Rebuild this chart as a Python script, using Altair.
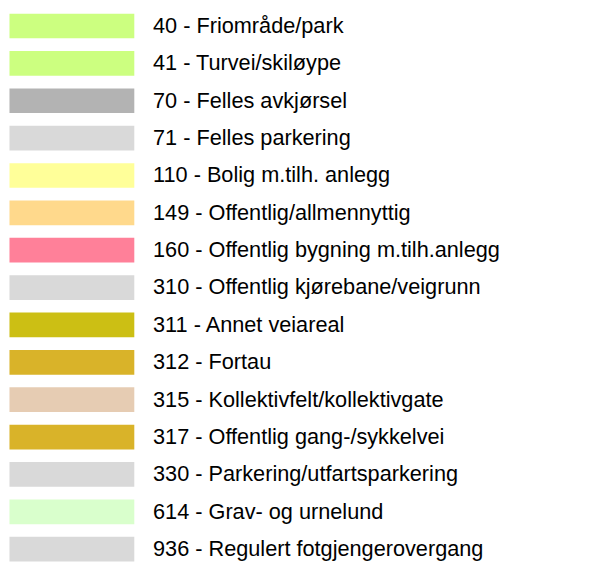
import altair as alt
import pandas as pd

codes = ["40", "41", "70", "71", "110", "149", "160", "310", "311", "312",
         "315", "317", "330", "614", "936"]
names = ["Friområde/park", "Turvei/skiløype", "Felles avkjørsel", "Felles parkering",
         "Bolig m.tilh. anlegg", "Offentlig/allmennyttig", "Offentlig bygning m.tilh.anlegg",
         "Offentlig kjørebane/veigrunn", "Annet veiareal", "Fortau",
         "Kollektivfelt/kollektivgate", "Offentlig gang-/sykkelvei",
         "Parkering/utfartsparkering", "Grav- og urnelund", "Regulert fotgjengerovergang"]
colors = ["#ccff80", "#ccff80", "#b3b3b3", "#d9d9d9", "#ffff99", "#ffd98c", "#ff8099",
          "#d9d9d9", "#ccbf14", "#d9b329", "#e6ccb3", "#d9b329", "#d9d9d9", "#d9ffcc",
          "#d9d9d9"]

df = pd.DataFrame({
    "code": codes,
    "label": [f"{c} - {n}" for c, n in zip(codes, names)],
    "color": colors,
})

yenc = alt.Y("code:N", sort=codes, axis=None,
             scale=alt.Scale(type="band", range=[2, 557.2], paddingInner=0.339,
                             paddingOuter=0, round=False))

swatches = alt.Chart(df).mark_rect().encode(
    y=yenc,
    x=alt.value(1.5),
    x2=alt.value(128),
    color=alt.Color("color:N", scale=None, legend=None),
)

labels = alt.Chart(df).mark_text(
    align="left", baseline="middle", font="Liberation Sans", fontSize=22, color="#000000"
).encode(
    y=yenc,
    x=alt.value(147),
    text="label:N",
)

chart = alt.layer(swatches, labels).properties(
    width=603, height=556, padding=0, autosize=alt.AutoSizeParams(type="none")
).configure_view(stroke=None)

chart.save("out.html", embed_options={"renderer": "svg", "actions": False})
